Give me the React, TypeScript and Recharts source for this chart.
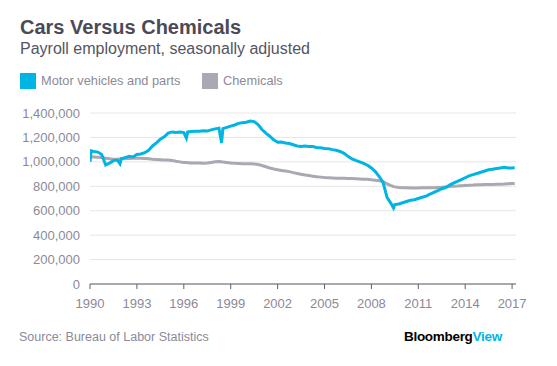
import React from "react";
import { LineChart, Line, XAxis, YAxis, CartesianGrid } from "recharts";

const dates = [
  "1990-01","1990-02","1990-04","1990-07","1990-10",
  "1991-01","1991-04","1991-07","1991-10","1991-12",
  "1992-01","1992-04","1992-07","1992-10",
  "1993-01","1993-04","1993-07","1993-10",
  "1994-01","1994-04","1994-07","1994-10",
  "1995-01","1995-04","1995-07","1995-10",
  "1996-01","1996-03","1996-04","1996-07","1996-10",
  "1997-01","1997-04","1997-07","1997-10",
  "1998-01","1998-04","1998-06","1998-07","1998-10",
  "1999-01","1999-04","1999-07","1999-10",
  "2000-01","2000-04","2000-07","2000-10",
  "2001-01","2001-04","2001-07","2001-10",
  "2002-01","2002-04","2002-07","2002-10",
  "2003-01","2003-04","2003-07","2003-10",
  "2004-01","2004-04","2004-07","2004-10",
  "2005-01","2005-04","2005-07","2005-10",
  "2006-01","2006-04","2006-07","2006-10",
  "2007-01","2007-04","2007-07","2007-10",
  "2008-01","2008-04","2008-07","2008-10",
  "2009-01","2009-04","2009-06","2009-07","2009-10",
  "2010-01","2010-04","2010-07","2010-10",
  "2011-01","2011-04","2011-07","2011-10",
  "2012-01","2012-04","2012-07","2012-10",
  "2013-01","2013-04","2013-07","2013-10",
  "2014-01","2014-04","2014-07","2014-10",
  "2015-01","2015-04","2015-07","2015-10",
  "2016-01","2016-04","2016-07","2016-10",
  "2017-01","2017-03",
];

// thousands of jobs
const motorVehicles = [
  1000,1090,1085,1080,1060,
  975,990,1010,1015,985,
  1025,1035,1045,1040,
  1060,1065,1075,1095,
  1130,1155,1185,1205,
  1235,1245,1240,1245,
  1240,1195,1245,1248,1250,
  1250,1255,1252,1262,
  1270,1275,1155,1272,1282,
  1292,1302,1315,1320,
  1325,1335,1330,1305,
  1265,1235,1210,1180,
  1160,1162,1155,1150,
  1140,1130,1125,1130,
  1125,1125,1118,1115,
  1110,1108,1100,1095,
  1085,1070,1045,1025,
  1012,1000,988,972,
  950,920,880,830,
  710,660,622,650,655,
  665,675,685,690,
  700,710,720,735,
  750,765,780,790,
  810,825,840,855,
  870,885,895,905,
  915,925,935,940,
  945,950,955,950,
  950,952,
];

const chemicals = [
  1040,1040,1040,1038,1035,
  1030,1025,1022,1022,1024,
  1025,1027,1028,1030,
  1030,1030,1028,1025,
  1022,1020,1018,1015,
  1015,1012,1005,1000,
  995,994,993,990,990,
  990,988,990,995,
  1000,1002,1000,998,995,
  990,988,987,985,
  985,985,982,978,
  970,960,950,942,
  935,930,925,920,
  912,905,898,893,
  888,883,878,875,
  872,870,868,866,
  865,865,864,863,
  862,860,858,857,
  853,850,845,838,
  820,805,798,795,790,
  788,787,786,786,
  786,787,788,788,
  788,790,792,795,
  798,800,802,805,
  807,809,810,812,
  813,814,815,815,
  816,817,818,820,
  822,823,
];

const xTicks = [1990, 1993, 1996, 1999, 2002, 2005, 2008, 2011, 2014, 2017];
const yTicks = [0, 200000, 400000, 600000, 800000, 1000000, 1200000, 1400000];

const CYAN = "#00b4e4";
const GRAY = "#a9a8b3";
const TEXT = "#8b8a97";
const FONT = "'Liberation Sans', Arial, sans-serif";

const data = dates.map((d, i) => {
  const [y, m] = d.split("-").map(Number);
  return {
    t: y + (m - 1) / 12,
    motor: motorVehicles[i] * 1000,
    chem: chemicals[i] * 1000,
  };
});

export default function App() {
  return (
    <div
      style={{
        position: "absolute",
        left: 0,
        top: 0,
        width: 557,
        height: 366,
        background: "#fff",
        fontFamily: FONT,
      }}
    >
      <div style={{ position: "absolute", left: 20, top: 16, fontSize: 20, fontWeight: 700, color: "#4a4a58", whiteSpace: "nowrap" }}>
        Cars Versus Chemicals
      </div>
      <div style={{ position: "absolute", left: 20, top: 40, fontSize: 16, color: "#55545f", whiteSpace: "nowrap" }}>
        Payroll employment, seasonally adjusted
      </div>
      <div style={{ position: "absolute", left: 20, top: 73, width: 16, height: 16, background: CYAN }} />
      <div style={{ position: "absolute", left: 41, top: 73, fontSize: 12.8, color: TEXT, whiteSpace: "nowrap" }}>
        Motor vehicles and parts
      </div>
      <div style={{ position: "absolute", left: 202, top: 73, width: 16, height: 16, background: GRAY }} />
      <div style={{ position: "absolute", left: 223, top: 73, fontSize: 12.8, color: TEXT, whiteSpace: "nowrap" }}>
        Chemicals
      </div>

      <div style={{ position: "absolute", left: 0, top: 0 }}>
        <LineChart
          width={557}
          height={366}
          data={data}
          margin={{ top: 113, right: 41, left: 10, bottom: 57 }}
        >
          <CartesianGrid horizontal vertical={false} stroke="#e6e6e8" strokeWidth={1} />
          <XAxis
            dataKey="t"
            type="number"
            domain={[1990, 2017.25]}
            ticks={xTicks}
            allowDataOverflow
            height={25}
            tickSize={5}
            tickMargin={10}
            axisLine={{ stroke: "#5f5e6b", strokeWidth: 1 }}
            tickLine={{ stroke: "#5f5e6b", strokeWidth: 1 }}
            tick={{ fill: TEXT, fontSize: 13, fontFamily: FONT }}
            tickFormatter={(v: number) => String(v)}
          />
          <YAxis
            type="number"
            domain={[0, 1400000]}
            ticks={yTicks}
            width={80}
            axisLine={false}
            tickLine={false}
            tickSize={6}
            tickMargin={4}
            tick={{ fill: TEXT, fontSize: 13, fontFamily: FONT }}
            tickFormatter={(v: number) => v.toLocaleString("en-US")}
          />
          <Line
            type="linear"
            dataKey="chem"
            stroke={GRAY}
            strokeWidth={3}
            dot={false}
            isAnimationActive={false}
          />
          <Line
            type="linear"
            dataKey="motor"
            stroke={CYAN}
            strokeWidth={3}
            dot={false}
            isAnimationActive={false}
          />
        </LineChart>
      </div>

      <div style={{ position: "absolute", left: 19, top: 330, fontSize: 12.5, color: TEXT, whiteSpace: "nowrap" }}>
        Source: Bureau of Labor Statistics
      </div>
      <div style={{ position: "absolute", left: 404, top: 329, fontSize: 13.5, whiteSpace: "nowrap", letterSpacing: -0.3 }}>
        <span style={{ fontWeight: 700, color: "#000" }}>Bloomberg</span>
        <span style={{ fontWeight: 700, color: CYAN }}>View</span>
      </div>
    </div>
  );
}
